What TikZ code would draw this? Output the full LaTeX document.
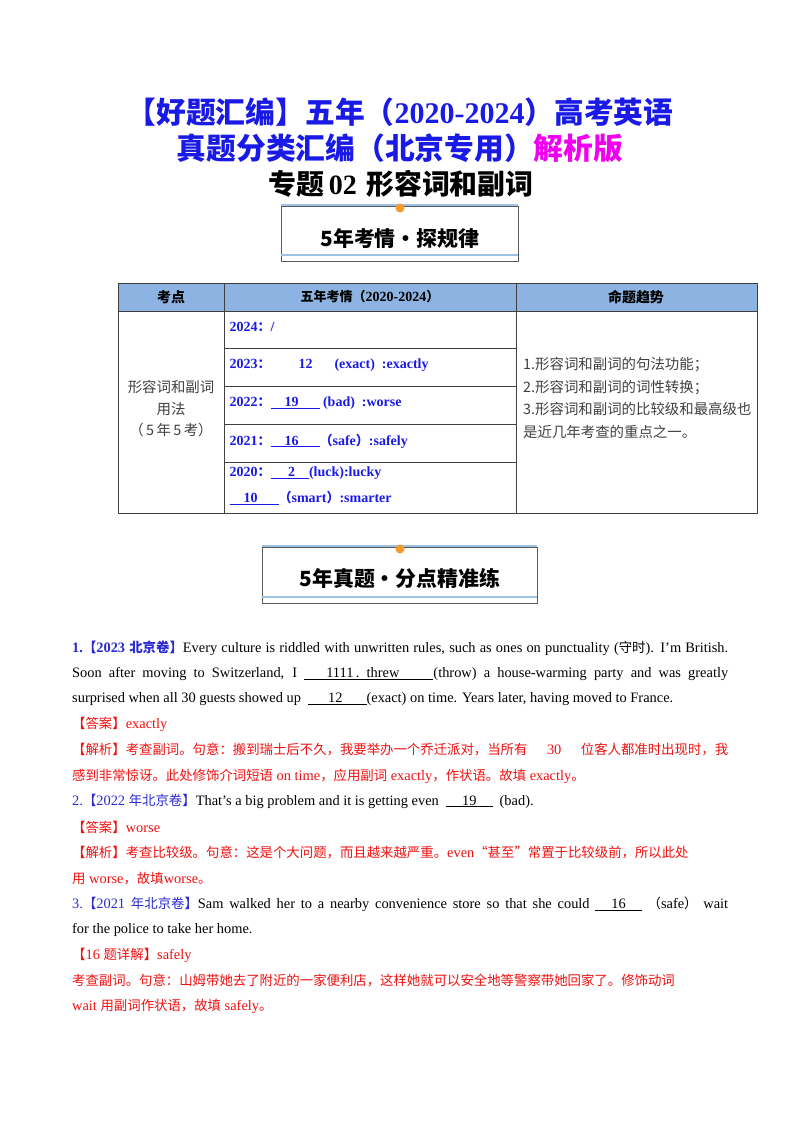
\documentclass[tikz,border=0pt]{standalone}
\usepackage{fontspec}
\setmainfont{Liberation Serif}
\newfontfamily\cjk[Scale=0.93]{Noto Sans CJK SC}
\definecolor{tblue}{HTML}{1A1AE6}
\definecolor{tmag}{HTML}{F000F0}
\definecolor{hdr}{HTML}{8DB3E2}
\definecolor{lblue}{HTML}{9CC3E6}
\definecolor{orng}{HTML}{F79A2E}
\definecolor{ans}{HTML}{F01010}
\definecolor{qblue}{HTML}{2A2AD0}
\newcommand{\C}[1]{{\cjk #1}}
\newcommand{\bl}[1]{\underline{#1}}
\begin{document}
\begin{tikzpicture}[x=1pt,y=-1pt,
  ttl/.style={font=\fontsize{30}{30}\selectfont\bfseries},
  cell/.style={font=\fontsize{14}{14}\selectfont\bfseries\color{tblue},anchor=west},
  body/.style={font=\fontsize{14.4}{14.4}\selectfont,anchor=west,inner sep=0},
  boxt/.style={font=\fontsize{22.5}{22.5}\selectfont\cjk\bfseries}]
\useasboundingbox (0,0) rectangle (800,1132);
% titles
\node[ttl,text=tblue] (t1) at (400,112) {{\fontsize{32}{32}\selectfont\C{【好题汇编】五年（}}2020-2024{\fontsize{32}{32}\selectfont\C{）高考英语}}};
\node[font=\fontsize{32}{32}\selectfont\bfseries] (t2) at (400,148) {\textcolor{tblue}{\C{真题分类汇编（北京专用）}}\textcolor{tmag}{\C{解析版}}};
\node[font=\fontsize{28}{28}\selectfont\bfseries] (t3) at (401,184) {{\fontsize{30}{30}\selectfont\C{专题}}\,02\,\,{\fontsize{30}{30}\selectfont\C{形容词和副词}}};
% box 1
\draw[gray!70!black,line width=0.8pt] (281,206) rectangle (518,261);
\draw[lblue,line width=1.2pt] (281,205)--(518,205);
\draw[lblue,line width=1.2pt] (281,255)--(518,255);
\fill[orng] (400,208) circle (4.5);
\node[boxt] (b1) at (400,239) {5年考情·探规律};
% table
\fill[hdr] (118,283) rectangle (757,311);
\draw[gray!50!black,line width=0.6pt] (118,283) rectangle (757,513);
\draw[gray!50!black,line width=0.6pt] (118,311)--(757,311) (224,283)--(224,513) (516,283)--(516,513)
 (224,348)--(516,348) (224,386)--(516,386) (224,424)--(516,424) (224,462)--(516,462);
\node[font=\fontsize{15}{15}\selectfont\cjk\bfseries] (h1) at (171,297) {考点};
\node[font=\fontsize{14}{14}\selectfont\bfseries] (h2) at (370,297) {\C{五年考情（}2020-2024\C{）}};
\node[font=\fontsize{15}{15}\selectfont\cjk\bfseries] (h3) at (636,297) {命题趋势};
\node[font=\fontsize{15.5}{15.5}\selectfont\cjk,text=black!75,align=center] (k) at (171,409) {形容词和副词\\[6pt]用法\\[6pt]（\,5\,年\,5\,考）};
\node[cell] (r1) at (226,327) {2024\C{：}/};
\node[cell] (r2) at (226,365) {2023\C{：}\hspace{28pt}12\hspace{22pt}(exact)\ \ :exactly};
\node[cell] (r3) at (226,403) {2022\C{：}\bl{\ \ \ \ 19\ \ \ \ \ \ }\ (bad)\ \ :worse};
\node[cell] (r4) at (226,441) {2021\C{：}\bl{\ \ \ \ 16\ \ \ \ \ \ }\C{（}safe\C{）}:safely};
\node[cell] (r5) at (226,473) {2020\C{：}\bl{\ \ \ \ \ 2\ \ \ \ }(luck):lucky};
\node[cell] (r6) at (226,498) {\bl{\ \ \ \ 10\ \ \ \ \ \ }\C{（}smart\C{）}:smarter};
\node[font=\fontsize{15.5}{15.5}\selectfont\cjk,text=black!75,anchor=west,align=left,inner sep=0] (tr) at (523,398)
 {1.形容词和副词的句法功能；\\[7pt]2.形容词和副词的词性转换；\\[7pt]3.形容词和副词的比较级和最高级也\\[7pt]是近几年考查的重点之一。};
% box 2
\draw[gray!70!black,line width=0.8pt] (262,547) rectangle (537,603);
\draw[lblue,line width=1.2pt] (262,546)--(537,546);
\draw[lblue,line width=1.2pt] (262,597)--(537,597);
\fill[orng] (400,549) circle (4.5);
\node[boxt] (b2) at (400,578) {5年真题·分点精准练};
% body
\node[body] (l1) at (72,648) {\makebox[656pt][s]{\textcolor{qblue}{\bfseries 1.\C{【}2023 \C{北京卷】}}Every culture is riddled with unwritten rules, such as ones on punctuality (\C{守时}). I'm British.}};
\node[body] (l2) at (72,674) {\makebox[656pt][s]{Soon after moving to Switzerland, I \bl{\hspace{22pt}1111\,.\ \ threw\hspace{34pt}}(throw) a house-warming party and was greatly}};
\node[body] (l3) at (72,699) {surprised when all 30 guests showed up \ \bl{\hspace{20pt}12\hspace{24pt}}(exact) on time. Years later, having moved to France.};
\node[body,text=ans] (l4) at (72,724) {\C{【答案】}exactly};
\node[body,text=ans] (l5) at (72,750) {\makebox[656pt][s]{\C{【解析】考查副词。句意：搬到瑞士后不久，我要举办一个乔迁派对，当所有} 30 \C{位客人都准时出现时，我}}};
\node[body,text=ans] (l6) at (72,776) {\C{感到非常惊讶。此处修饰介词短语} on time\C{，应用副词} exactly\C{，作状语。故填} exactly\C{。}};
\node[body] (l7) at (72,801) {\textcolor{qblue}{2.\C{【}2022 \C{年北京卷】}}That's a big problem and it is getting even \ \bl{\hspace{16pt}19\hspace{16pt}} \ (bad).};
\node[body,text=ans] (l8) at (72,827) {\C{【答案】}worse};
\node[body,text=ans] (l9) at (72,853) {\makebox[656pt][s]{\C{【解析】考查比较级。句意：这是个大问题，而且越来越严重。}even\C{“甚至”常置于比较级前，所以此处}}};
\node[body,text=ans] (l10) at (72,879) {\C{用} worse\C{，故填}worse\C{。}};
\node[body] (l11) at (72,904) {\makebox[656pt][s]{\textcolor{qblue}{3.\C{【}2021 \C{年北京卷】}}Sam walked her to a nearby convenience store so that she could \bl{\hspace{16pt}16\hspace{16pt}} \C{（}safe\C{）} wait}};
\node[body] (l12) at (72,930) {for the police to take her home.};
\node[body,text=ans] (l13) at (72,955) {\C{【}16 \C{题详解】}safely};
\node[body,text=ans] (l14) at (72,981) {\C{考查副词。句意：山姆带她去了附近的一家便利店，这样她就可以安全地等警察带她回家了。修饰动词}};
\node[body,text=ans] (l15) at (72,1006) {wait \C{用副词作状语，故填} safely\C{。}};
\end{tikzpicture}
\end{document}
